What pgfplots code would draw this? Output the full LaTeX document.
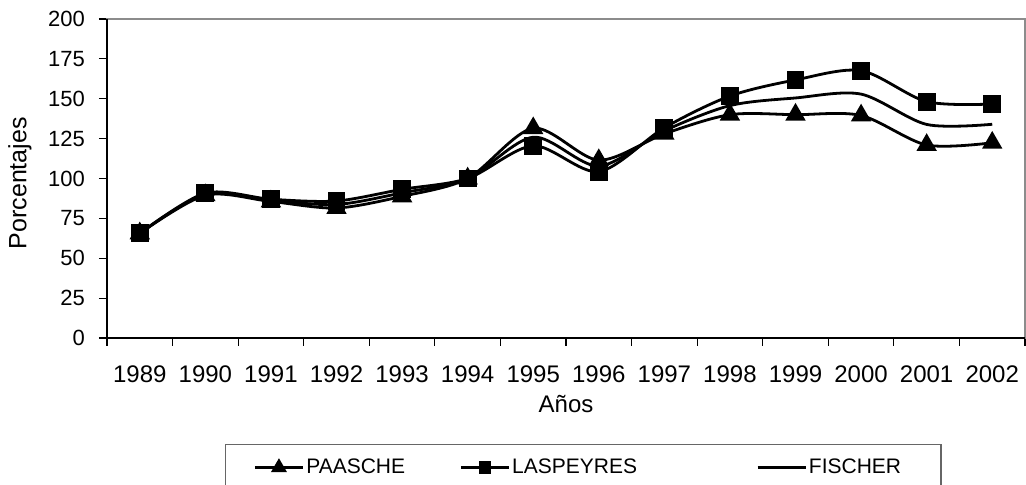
\documentclass[border=0pt]{standalone}
\usepackage{fontspec}
\setmainfont{Liberation Sans}
\usepackage{pgfplots}
\pgfplotsset{compat=1.18}
\usepackage{pgfplotstable}

\pgfplotstableread{
idx P L F
0 65.6 65.6 65.6
1 89.5 90.8 90.1
2 85.6 87.0 86.3
3 81.5 85.9 83.7
4 88.8 93.2 91.0
5 100 100 100
6 131.5 120.5 125.9
7 111.5 104.3 107.8
8 128.0 131.8 129.9
9 140.0 151.7 145.7
10 140.0 161.8 150.5
11 139.5 167.6 152.9
12 121.0 148.2 133.9
13 122.4 146.7 134.0
}\data

\begin{document}
\begin{tikzpicture}
\useasboundingbox (-53.5pt,-73.5pt) rectangle (459.5pt,169pt);
\begin{axis}[
  at={(0pt,0pt)}, anchor=south west,
  scale only axis, width=459pt, height=159.5pt,
  xmin=-0.5, xmax=13.5, ymin=0, ymax=200,
  ytick={0,25,...,200},
  xtick={-0.5,0.5,...,13.5},
  xticklabels={},
  extra x ticks={0,...,13},
  extra x tick labels={1989,1990,1991,1992,1993,1994,1995,1996,1997,1998,1999,2000,2001,2002},
  extra x tick style={major tick length=0pt, xticklabel style={anchor=base, yshift=-22.5pt}},
  xtick pos=lower, ytick pos=left,
  tick align=outside,
  major tick length=4pt,
  tick style={black, line width=0.6pt},
  axis line style={draw=gray!90, line width=1pt},
  /pgf/number format/assume math mode=true,
  yticklabel style={font=\fontsize{11}{13}\selectfont, xshift=-3.5pt},
  xticklabel style={font=\fontsize{12}{14}\selectfont},
  xlabel={Años}, ylabel={Porcentajes},
  xlabel style={font=\fontsize{12}{14}\selectfont, at={(axis description cs:0.5,-0.2351)}, anchor=base},
  ylabel style={font=\fontsize{12.5}{14}\selectfont, at={(axis description cs:-0.0948,0.485)}, anchor=center},
  legend columns=3,
  legend style={at={(axis description cs:0.1285,-0.3323)}, anchor=north west,
    draw=gray!80!black, line width=0.6pt, font=\fontsize{10.5}{12}\selectfont,
    nodes={inner sep=0pt, anchor=west}, column sep=0pt,
    inner xsep=14pt, inner ysep=7pt},
  legend image code/.code={\draw[mark repeat=2,mark phase=2,#1] plot coordinates {(0pt,0pt) (12pt,0pt) (24pt,0pt)};},
  every axis plot/.append style={line width=1.4pt, black, smooth, tension=0.5},
  after end axis/.code={\draw[black,line width=1pt] (rel axis cs:0,1) -- (rel axis cs:0,0) -- (rel axis cs:1,0);},
]
\addplot[mark=triangle*, mark size=4.5pt, mark options={solid}, legend image post style={mark size=3.2pt}] table[x=idx,y=P]{\data};
\addlegendentry{\makebox[77.5pt][l]{\hspace{1pt}PAASCHE}}
\addplot[mark=square*, mark size=3.75pt, mark options={solid}, legend image post style={mark size=2.4pt}] table[x=idx,y=L]{\data};
\addlegendentry{\makebox[123pt][l]{\hspace{1pt}LASPEYRES}}
\addplot[no marks] table[x=idx,y=F]{\data};
\addlegendentry{\makebox[53pt][l]{\hspace{1pt}FISCHER}}
\end{axis}
\end{tikzpicture}
\end{document}
